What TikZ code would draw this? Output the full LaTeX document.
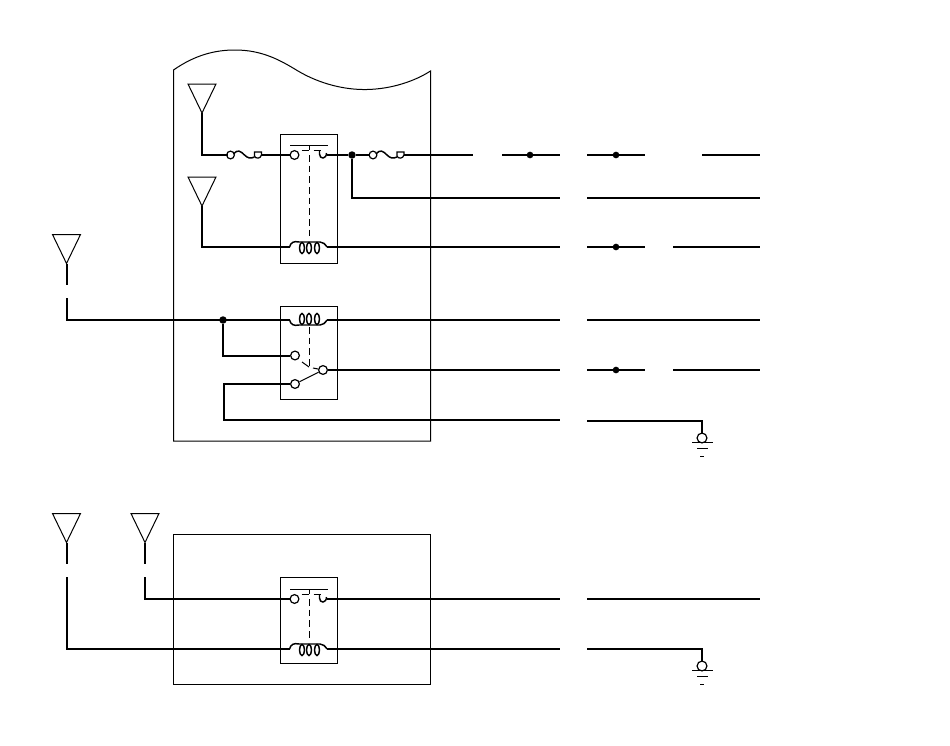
\documentclass[tikz,border=0pt]{standalone}
\usepackage{amsmath}

\tikzset{
	thinline/.style={line width=0.75pt},
	wire/.style={line width=1.5pt},
	linkdash/.style={line width=0.75pt,dash pattern=on 5pt off 3pt},
	contact/.style={circle,draw,fill=white,inner sep=0pt,minimum size=6.6pt,line width=0.9pt},
	junction/.style={circle,fill=black,inner sep=0pt,minimum size=5.6pt},
	antenna/.pic={
		\draw[thinline] (-14,-29) -- (14,-29) -- (0,0) -- cycle;
		\coordinate (-tip) at (0,0);
	},
	fuse/.pic={
		\node[contact,minimum size=5.8pt] (-a) at (0,0) {};
		\draw[line width=1.1pt] (3,-1) .. controls (7,-6) and (10,-4) .. (14,0) .. controls (17,3) and (20,4) .. (24,2);
		\draw[line width=0.9pt] (24,-3) -- (31,-3) -- (31,0) .. controls (30,4) and (25,4) .. (24,1) -- cycle;
		\coordinate (-in) at (-3,0);
		\coordinate (-out) at (31,0);
	},
	coil/.pic={
		\draw[line width=1.1pt] (-19.5,0) .. controls (-18,-5) and (-15,-6) .. (-10,-5) -- (11,-5) .. controls (14,-5) and (16,-3) .. (18,0);
		\foreach \k in {-7,0,8} {
			\draw[line width=1.1pt] (\k,1) ellipse (2.5 and 5.5);
		}
		\coordinate (-in) at (-19.5,0);
		\coordinate (-out) at (18,0);
	},
	breakcontact/.pic={
		\draw[thinline] (-19.5,-10) -- (18.5,-10);
		\draw[thinline] (0,-10) -- (0,-5);
		\draw[thinline] (-8,-5) -- (-1,-5);
		\draw[thinline] (4,-4.5) -- (11,-4.5);
		\draw[line width=1.1pt] (10,-4.5) -- (10,-1) .. controls (10,4.5) and (17,4.5) .. (17,-2);
		\node[contact] (-l) at (-15,0) {};
		\coordinate (-r) at (17.5,0);
	},
	earth/.pic={
		\node[contact,minimum size=7.4pt] (-c) at (0,0) {};
		\draw[thinline] (-10,4.5) -- (10.5,4.5);
		\draw[thinline] (-5,10.5) -- (5.5,10.5);
		\draw[thinline] (-2,18) -- (2,18);
		\coordinate (-top) at (0,-4.5);
	}
}

\begin{document}
\begin{tikzpicture}[x=0.75pt,y=-0.75pt]
	\useasboundingbox (0,0) rectangle (950,746);

	\foreach \r in {155,198,247,320,370,420,421,599,649} {
		\foreach \c in {473,502,530,560,587,616,645,673,702,760} {
			\coordinate (w\r-\c) at (\c,\r);
		}
	}

	\draw[thinline] (173.5,441) -- (173.5,70) .. controls (195,55) and (215,50) .. (235,50) .. controls (262,50) and (280,60) .. (298,71) .. controls (320,84) and (345,90) .. (367,89.5) .. controls (392,89) and (415,81) .. (430.5,71) -- (430.5,441) -- cycle;
	\draw[thinline] (173.5,534) rectangle (430.5,684);
	\draw[thinline] (280.5,134) rectangle (337.5,263);
	\draw[thinline] (280.5,306) rectangle (337.5,399);
	\draw[thinline] (280.5,577) rectangle (337.5,663);

	\pic (ant1) at (202,113) {antenna};
	\pic (ant2) at (202,206) {antenna};
	\pic (ant3) at (66.5,263.5) {antenna};
	\pic (ant4) at (66.5,542.5) {antenna};
	\pic (ant5) at (145,542.5) {antenna};
	\coordinate (ant3s) at (66.5,285);
	\coordinate (ant3t) at (66.5,298);
	\coordinate (ant4s) at (66.5,564);
	\coordinate (ant4t) at (66.5,577);
	\coordinate (ant5s) at (145,564);
	\coordinate (ant5t) at (145,577);

	\pic (fuse1) at (230.5,155) {fuse};
	\pic (fuse2) at (373,155) {fuse};

	\pic (brk1) at (309.5,155) {breakcontact};
	\pic (coil1) at (309,247) {coil};
	\draw[linkdash] (309.5,155) -- (309.5,238);

	\pic[yscale=-1] (coil2) at (309,320) {coil};
	\node[contact] (nc) at (295,355.5) {};
	\node[contact] (no) at (295,384) {};
	\node[contact] (com) at (323,370) {};
	\draw[thinline] (no) -- (com);
	\draw[thinline] (302,362) -- (309,367);
	\draw[thinline] (313,368) -- (com);
	\draw[linkdash] (309.5,327) -- (309.5,367);

	\pic (brk2) at (309.5,599) {breakcontact};
	\pic (coil3) at (309,649) {coil};
	\draw[linkdash] (309.5,599) -- (309.5,640);

	\pic (gnd1) at (702,438) {earth};
	\pic (gnd2) at (702,666) {earth};

	\node[junction] (j1) at (352,155) {};
	\node[junction] (j2) at (223,320) {};
	\node[junction,minimum size=5pt] (d1) at (w155-530) {};
	\node[junction,minimum size=5pt] (d2) at (w155-616) {};
	\node[junction,minimum size=5pt] (d3) at (w247-616) {};
	\node[junction,minimum size=5pt] (d4) at (w370-616) {};

	\draw[wire] (ant1-tip) |- (fuse1-in);
	\draw[wire] (fuse1-out) -- (brk1-l);
	\draw[wire] (brk1-r) -- (j1);
	\draw[wire] (j1) -- (fuse2-in);
	\draw[wire] (fuse2-out) -- (w155-473);
	\draw[wire] (w155-502) -- (w155-560);
	\draw[wire] (w155-587) -- (w155-645);
	\draw[wire] (w155-702) -- (w155-760);
	\draw[wire] (j1) |- (w198-560);
	\draw[wire] (w198-587) -- (w198-760);

	\draw[wire] (ant2-tip) |- (coil1-in);
	\draw[wire] (coil1-out) -- (w247-560);
	\draw[wire] (w247-587) -- (w247-645);
	\draw[wire] (w247-673) -- (w247-760);

	\draw[wire] (ant3-tip) -- (ant3s);
	\draw[wire] (ant3t) |- (coil2-in);
	\draw[wire] (j2) |- (nc);
	\draw[wire] (coil2-out) -- (w320-560);
	\draw[wire] (w320-587) -- (w320-760);

	\draw[wire] (com) -- (w370-560);
	\draw[wire] (w370-587) -- (w370-645);
	\draw[wire] (w370-673) -- (w370-760);

	\draw[wire] (no) -| (224,420) -- (w420-560);
	\draw[wire] (w421-587) -- (w421-702) -- (gnd1-top);

	\draw[wire] (ant4-tip) -- (ant4s);
	\draw[wire] (ant5-tip) -- (ant5s);
	\draw[wire] (ant5t) |- (brk2-l);
	\draw[wire] (brk2-r) -- (w599-560);
	\draw[wire] (w599-587) -- (w599-760);
	\draw[wire] (ant4t) |- (coil3-in);
	\draw[wire] (coil3-out) -- (w649-560);
	\draw[wire] (w649-587) -- (w649-702) -- (gnd2-top);
\end{tikzpicture}
\end{document}
